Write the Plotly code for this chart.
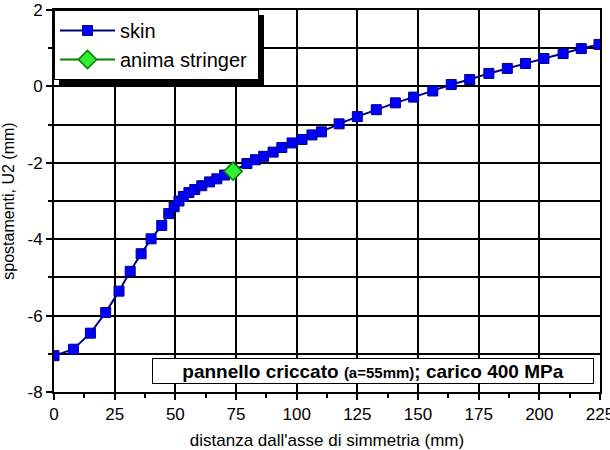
import plotly.graph_objects as go

skin_x = [0, 8, 15, 21.3, 26.8, 31.4, 35.9, 40.0, 44.4, 47.3, 49.5, 51.5, 53.3, 55.6, 58.0,
          60.9, 64.1, 67.1, 70.3, 73.8, 79.5, 83.0, 86.4, 90.3, 93.9, 98.1, 102.2, 106.3,
          110.2, 117.5, 125.0, 132.8, 140.7, 148.2, 156.1, 163.7, 171.3, 179.2, 186.8,
          194.3, 201.9, 209.8, 217.3, 224.6]
skin_y = [-7.05, -6.88, -6.46, -5.92, -5.36, -4.84, -4.38, -3.99, -3.64, -3.33, -3.15, -3.00,
          -2.88, -2.78, -2.70, -2.60, -2.50, -2.42, -2.32, -2.22, -2.02, -1.92, -1.83, -1.72,
          -1.60, -1.48, -1.39, -1.27, -1.19, -0.98, -0.79, -0.61, -0.43, -0.28, -0.12, 0.05,
          0.18, 0.34, 0.47, 0.60, 0.73, 0.86, 0.99, 1.10]
stringer_x = [73.8]
stringer_y = [-2.22]

x_ticks = [0, 25, 50, 75, 100, 125, 150, 175, 200, 225]
y_ticks = [-8, -6, -4, -2, 0, 2]

FONT = "Liberation Sans, Arial, sans-serif"
PW, PH = 546, 382  # plot area size in px

fig = go.Figure()
fig.add_trace(go.Scatter(
    x=skin_x, y=skin_y, name="skin", mode="lines+markers",
    line=dict(color="#000080", width=2),
    marker=dict(symbol="square", size=10, color="#0000FF",
                line=dict(color="#000080", width=1)),
))
fig.add_trace(go.Scatter(
    x=stringer_x, y=stringer_y, name="anima stringer\u00a0", mode="lines+markers",
    line=dict(color="#008000", width=2),
    marker=dict(symbol="diamond", size=14, color="#33EE33",
                line=dict(color="#008000", width=1.5)),
))

# legend shadow
fig.add_shape(type="rect", xref="paper", yref="paper",
              x0=5/PW, x1=210/PW, y0=1-76/PH, y1=1-5/PH,
              fillcolor="black", line=dict(width=0), layer="above")

fig.add_annotation(
    x=131.6, y=-7.46, xref="x", yref="y", showarrow=False,
    text="<b>pannello criccato <span style='font-size:15px'>(a=55mm)</span>; carico 400 MPa</b>",
    font=dict(family=FONT, size=19, color="black"),
    bgcolor="white", bordercolor="black", borderwidth=1,
    width=438, height=22,
)

fig.update_layout(
    width=610, height=450,
    margin=dict(l=54, r=10, t=10, b=58),
    paper_bgcolor="white", plot_bgcolor="white",
    font=dict(family=FONT, size=17, color="black"),
    showlegend=True,
    legend=dict(x=0, y=1, xanchor="left", yanchor="top",
                bgcolor="white", bordercolor="black", borderwidth=1,
                font=dict(family=FONT, size=20, color="black"),
                tracegroupgap=0, itemwidth=55),
    xaxis=dict(
        range=[0, 225], tickvals=x_ticks, ticktext=[str(v) for v in x_ticks],
        showgrid=True, gridcolor="black", gridwidth=1.5,
        showline=True, linecolor="black", linewidth=2, mirror=True,
        ticks="outside", ticklen=6, tickwidth=1.5, tickcolor="black",
        minor=dict(dtick=12.5, tick0=0, ticks="outside", ticklen=4, tickwidth=1.5,
                   tickcolor="black", showgrid=False),
        zeroline=False, automargin=False, ticklabeloverflow="allow",
        title=dict(text="distanza dall'asse di simmetria (mm)", standoff=12,
                   font=dict(size=17)),
        tickfont=dict(size=17),
    ),
    yaxis=dict(
        range=[-8, 2], tickvals=y_ticks, ticktext=[str(v) for v in y_ticks],
        showgrid=True, gridcolor="black", gridwidth=1.5,
        showline=True, linecolor="black", linewidth=2, mirror=True,
        ticks="outside", ticklen=6, tickwidth=1.5, tickcolor="black",
        minor=dict(dtick=1, tick0=0, ticks="outside", ticklen=4, tickwidth=1.5,
                   tickcolor="black", showgrid=True, gridcolor="black", gridwidth=1.5),
        zeroline=False, automargin=False, ticklabeloverflow="allow",
        title=dict(text="spostamenti, U2 (mm)", standoff=9, font=dict(size=16)),
        tickfont=dict(size=17),
    ),
)

fig.write_html("out.html", config={"displayModeBar": False},
               post_script="document.body.style.margin='0';document.body.style.padding='0';")
